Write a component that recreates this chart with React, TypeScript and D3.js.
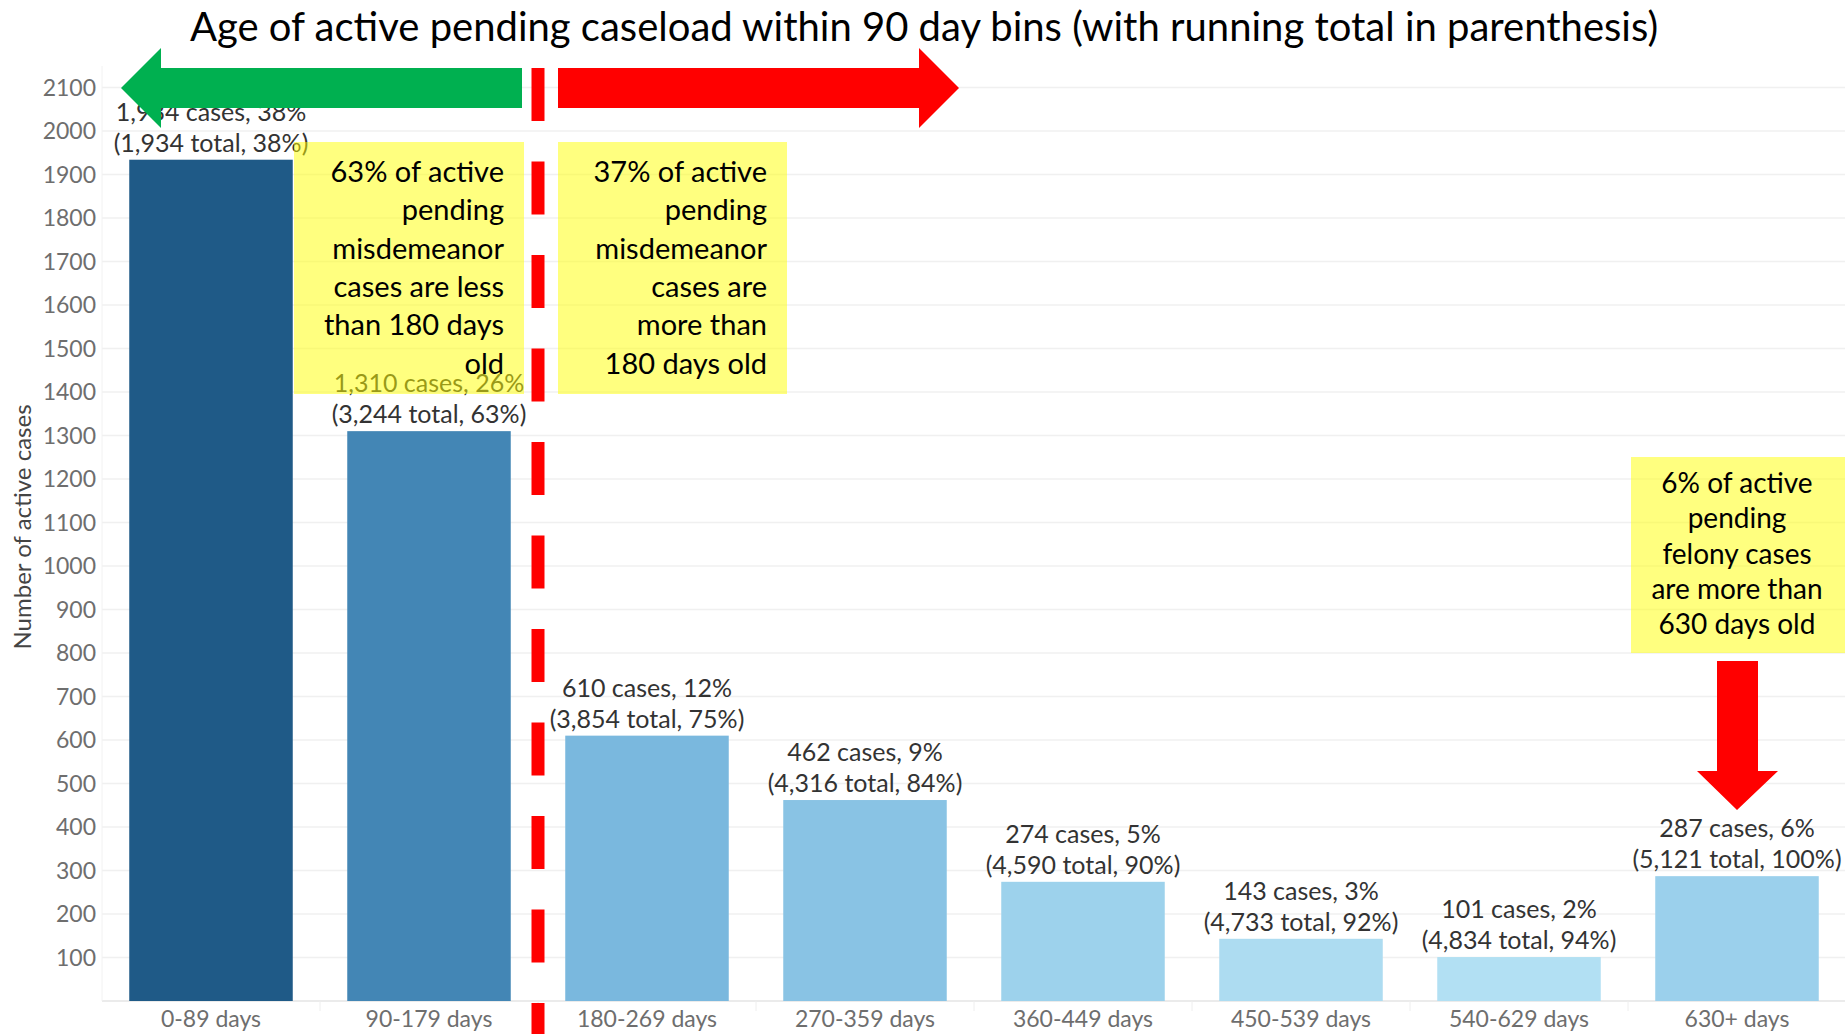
import * as d3 from 'd3';
import React, { useEffect, useRef } from 'react';

const categories = ['0-89 days', '90-179 days', '180-269 days', '270-359 days', '360-449 days', '450-539 days', '540-629 days', '630+ days'];
const caseCounts = [1934, 1310, 610, 462, 274, 143, 101, 287];
const casePct = [38, 26, 12, 9, 5, 3, 2, 6];
const runningTotals = [1934, 3244, 3854, 4316, 4590, 4733, 4834, 5121];
const runningPct = [38, 63, 75, 84, 90, 92, 94, 100];
const yTickValues = [100, 200, 300, 400, 500, 600, 700, 800, 900, 1000, 1100, 1200, 1300, 1400, 1500, 1600, 1700, 1800, 1900, 2000, 2100];

const noteLess = ['63% of active', 'pending', 'misdemeanor', 'cases are less', 'than 180 days', 'old'];
const noteMore = ['37% of active', 'pending', 'misdemeanor', 'cases are', 'more than', '180 days old'];
const noteFelony = ['6% of active', 'pending', 'felony cases', 'are more than', '630 days old'];

const title = 'Age of active pending caseload within 90 day bins (with running total in parenthesis)';

const W = 1845;
const H = 1034;
const FONT = 'Lato, sans-serif';

function App() {
    const ref = useRef(null);

    useEffect(() => {
        const svg = d3.select(ref.current);
        svg.selectAll('*').remove();

        const x = d3.scaleBand()
            .domain(categories)
            .range([102, 1846])
            .paddingInner(0.25)
            .paddingOuter(0.125);

        const y = d3.scaleLinear()
            .domain([0, 2100])
            .range([1001, 87.5]);

        const color = d3.scaleLinear()
            .domain([100, 280, 610, 1310, 1934])
            .range(['#b2e0f3', '#9cd1ec', '#7ab8de', '#4386b5', '#1f5a87']);

        const fmt = d3.format(',');

        // grid
        svg.append('g')
            .selectAll('line')
            .data(yTickValues)
            .join('line')
            .attr('x1', 102)
            .attr('x2', W)
            .attr('y1', d => y(d))
            .attr('y2', d => y(d))
            .attr('stroke', '#f0f0f0')
            .attr('stroke-width', 1.5);

        svg.append('line')
            .attr('x1', 102).attr('x2', W)
            .attr('y1', y(0)).attr('y2', y(0))
            .attr('stroke', '#e4e4e4')
            .attr('stroke-width', 1.5);

        svg.append('line')
            .attr('x1', 102).attr('x2', 102)
            .attr('y1', 66).attr('y2', y(0))
            .attr('stroke', '#f2f2f2');

        // band separators on the x axis
        svg.append('g')
            .selectAll('line')
            .data(categories.slice(1))
            .join('line')
            .attr('x1', d => x(d) - x.step() * x.paddingInner() / 2)
            .attr('x2', d => x(d) - x.step() * x.paddingInner() / 2)
            .attr('y1', y(0))
            .attr('y2', y(0) + 10)
            .attr('stroke', '#eeeeee');

        // y ticks
        svg.append('g')
            .selectAll('text')
            .data(yTickValues)
            .join('text')
            .attr('x', 96)
            .attr('y', d => y(d))
            .attr('dy', '0.35em')
            .attr('text-anchor', 'end')
            .attr('font-family', FONT)
            .attr('font-size', 23)
            .attr('fill', '#6e6e6e')
            .text(d => d);

        svg.append('text')
            .attr('transform', `translate(31,527) rotate(-90)`)
            .attr('text-anchor', 'middle')
            .attr('font-family', FONT)
            .attr('font-size', 24)
            .attr('fill', '#444')
            .text('Number of active cases');

        // x labels
        svg.append('g')
            .selectAll('text')
            .data(categories)
            .join('text')
            .attr('x', d => x(d) + x.bandwidth() / 2)
            .attr('y', 1027)
            .attr('text-anchor', 'middle')
            .attr('font-family', FONT)
            .attr('font-size', 23)
            .attr('fill', '#6e6e6e')
            .text(d => d);

        // bars
        svg.append('g')
            .selectAll('rect')
            .data(categories)
            .join('rect')
            .attr('x', d => x(d))
            .attr('width', x.bandwidth())
            .attr('y', (d, i) => y(caseCounts[i]))
            .attr('height', (d, i) => y(0) - y(caseCounts[i]))
            .attr('fill', (d, i) => color(caseCounts[i]));

        // bar labels
        const lbl = svg.append('g')
            .attr('font-family', FONT)
            .attr('font-size', 25)
            .attr('fill', '#333')
            .attr('text-anchor', 'middle');
        categories.forEach((c, i) => {
            const cx = x(c) + x.bandwidth() / 2;
            const top = y(caseCounts[i]);
            lbl.append('text')
                .attr('x', cx)
                .attr('y', top - 39)
                .text(`${fmt(caseCounts[i])} cases, ${casePct[i]}%`);
            lbl.append('text')
                .attr('x', cx)
                .attr('y', top - 8)
                .text(`(${fmt(runningTotals[i])} total, ${runningPct[i]}%)`);
        });

        // annotation boxes
        const boxes = [
            { x0: 294, x1: 524, y0: 142, y1: 394 },
            { x0: 558, x1: 787, y0: 142, y1: 394 },
            { x0: 1631, x1: W, y0: 457, y1: 653 },
        ];
        svg.append('g')
            .selectAll('rect')
            .data(boxes)
            .join('rect')
            .attr('x', d => d.x0)
            .attr('y', d => d.y0)
            .attr('width', d => d.x1 - d.x0)
            .attr('height', d => d.y1 - d.y0)
            .attr('fill', '#ffff00')
            .attr('fill-opacity', 0.5);

        const note = (lines, ax, anchor, y0, step, size) => {
            svg.append('g')
                .attr('font-family', FONT)
                .attr('font-size', size)
                .attr('fill', '#000')
                .attr('text-anchor', anchor)
                .selectAll('text')
                .data(lines)
                .join('text')
                .attr('x', ax)
                .attr('y', (d, i) => y0 + i * step)
                .text(d => d);
        };
        note(noteLess, 504, 'end', 182, 38.3, 29);
        note(noteMore, 767, 'end', 182, 38.3, 29);
        note(noteFelony, 1737, 'middle', 493, 35.3, 28);

        // dashed divider at the 180-day boundary
        const divX = x(categories[2]) - x.step() * x.paddingInner() / 2;
        svg.append('line')
            .attr('x1', divX).attr('x2', divX)
            .attr('y1', 68).attr('y2', H)
            .attr('stroke', '#ff0000')
            .attr('stroke-width', 13)
            .attr('stroke-dasharray', '53 40.5');

        // arrows
        svg.append('path')
            .attr('d', 'M121,88 L161,48 L161,68 L522,68 L522,108 L161,108 L161,128 Z')
            .attr('fill', '#00b050');
        svg.append('path')
            .attr('d', 'M558,68 L919,68 L919,48 L959,88 L919,128 L919,108 L558,108 Z')
            .attr('fill', '#ff0000');
        svg.append('path')
            .attr('d', 'M1717,661 L1758,661 L1758,771 L1778,771 L1737,810 L1697,771 L1717,771 Z')
            .attr('fill', '#ff0000');

        // title
        svg.append('text')
            .attr('x', 924)
            .attr('y', 41)
            .attr('text-anchor', 'middle')
            .attr('font-family', FONT)
            .attr('font-size', 40)
            .attr('fill', '#000')
            .text(title);
    }, []);

    return (
        <svg ref={ref} width={W} height={H} style={{ position: 'absolute', left: 0, top: 0, background: '#fff' }}></svg>
    );
}

export default App;
